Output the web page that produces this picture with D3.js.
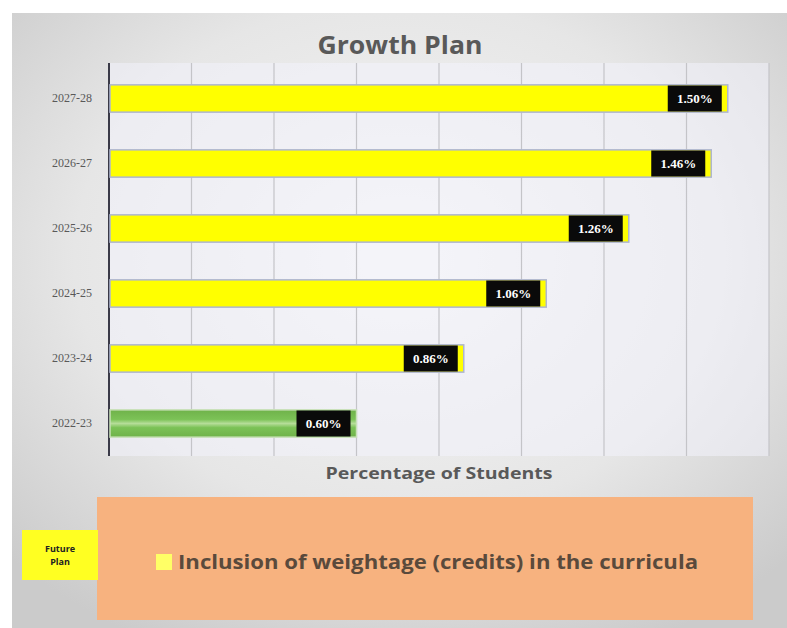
<!DOCTYPE html>
<html>
<head>
<meta charset="utf-8">
<script src="https://cdn.jsdelivr.net/npm/d3@7"></script>
<style>
  body { margin: 0; background: #fff; }
  svg { display: block; }
</style>
</head>
<body>
<svg id="chart" width="787" height="628"></svg>
<script>
"use strict";

// values
var years = ["2027-28", "2026-27", "2025-26", "2024-25", "2023-24", "2022-23"];
var percents = [1.50, 1.46, 1.26, 1.06, 0.86, 0.60];
var planned = [true, true, true, true, true, false];
var gridTicks = [0, 0.2, 0.4, 0.6, 0.8, 1.0, 1.2, 1.4, 1.6];
var legendLabels = ["Inclusion of weightage (credits) in the curricula"];
var sideLabel = ["Future", "Plan"];

var svg = d3.select("#chart");
var defs = svg.append("defs");

var bg = defs.append("radialGradient").attr("id", "bgGrad")
  .attr("cx", "50%").attr("cy", "40%").attr("r", "70%");
bg.append("stop").attr("offset", "0%").attr("stop-color", "#f7f7f7");
bg.append("stop").attr("offset", "60%").attr("stop-color", "#e6e6e6");
bg.append("stop").attr("offset", "100%").attr("stop-color", "#cbcbcb");

var green = defs.append("linearGradient").attr("id", "greenGrad")
  .attr("x1", 0).attr("y1", 0).attr("x2", 0).attr("y2", 1);
green.append("stop").attr("offset", "0%").attr("stop-color", "#6fb24a");
green.append("stop").attr("offset", "35%").attr("stop-color", "#7cc257");
green.append("stop").attr("offset", "50%").attr("stop-color", "#b5dd98");
green.append("stop").attr("offset", "65%").attr("stop-color", "#7cc257");
green.append("stop").attr("offset", "100%").attr("stop-color", "#6fb24a");

// outer panel
svg.append("rect")
  .attr("x", 12).attr("y", 13)
  .attr("width", 787 - 12).attr("height", 628 - 13)
  .attr("fill", "url(#bgGrad)");

var x = d3.scaleLinear().domain([0, 1.6]).range([109, 769]);
var y = d3.scaleBand().domain(years).range([66, 456]).paddingInner(0.58).paddingOuter(0.29);

// plot area tint
svg.append("rect")
  .attr("x", x(0)).attr("y", 63)
  .attr("width", x(1.6) - x(0)).attr("height", 456 - 63)
  .attr("fill", "#f3f3fb").attr("opacity", 0.55);

svg.append("text")
  .attr("x", 400).attr("y", 54)
  .attr("text-anchor", "middle")
  .attr("font-family", "'Open Sans', sans-serif")
  .attr("font-weight", "bold")
  .attr("font-size", 25)
  .attr("textLength", 165)
  .attr("lengthAdjust", "spacingAndGlyphs")
  .attr("fill", "#595959")
  .text("Growth Plan");

// vertical gridlines
svg.append("g")
  .selectAll("line")
  .data(gridTicks.slice(1))
  .join("line")
  .attr("x1", function(d) { return x(d); })
  .attr("x2", function(d) { return x(d); })
  .attr("y1", 63).attr("y2", 456)
  .attr("stroke", "#c4c4c8").attr("stroke-width", 1.2);

// category axis
var yAxis = svg.append("g")
  .attr("transform", "translate(" + x(0) + ",0)")
  .call(d3.axisLeft(y).tickSize(0).tickPadding(17));
yAxis.select(".domain").remove();
yAxis.selectAll("text")
  .attr("font-family", "'Liberation Serif', serif")
  .attr("font-size", 12)
  .attr("fill", "#595959");

svg.append("line")
  .attr("x1", x(0)).attr("x2", x(0))
  .attr("y1", 63).attr("y2", 456)
  .attr("stroke", "#3a3a48").attr("stroke-width", 2);

var rows = years.map(function(yr, i) {
  return { year: yr, value: percents[i], planned: planned[i] };
});

// bars
svg.append("g")
  .selectAll("rect")
  .data(rows)
  .join("rect")
  .attr("x", x(0) + 1)
  .attr("y", function(d) { return y(d.year); })
  .attr("width", function(d) { return x(d.value) - x(0) - 1; })
  .attr("height", y.bandwidth())
  .attr("fill", function(d) { return d.planned ? "#ffff00" : "url(#greenGrad)"; })
  .attr("stroke", function(d) { return d.planned ? "#aeb6d0" : "#c8e0b8"; })
  .attr("stroke-width", 1.5);

// data labels
var boxW = 54, boxH = 26;
var labels = svg.append("g")
  .selectAll("g")
  .data(rows)
  .join("g")
  .attr("transform", function(d) {
    return "translate(" + (x(d.value) - 6 - boxW) + "," + (y(d.year) + y.bandwidth() / 2 - boxH / 2) + ")";
  });
labels.append("rect")
  .attr("width", boxW).attr("height", boxH)
  .attr("fill", "#0a0a0a");
labels.append("text")
  .attr("x", boxW / 2).attr("y", boxH / 2 + 4.5)
  .attr("text-anchor", "middle")
  .attr("font-family", "'Liberation Serif', serif")
  .attr("font-weight", "bold")
  .attr("font-size", 13)
  .attr("fill", "#ffffff")
  .text(function(d) { return d.value.toFixed(2) + "%"; });

svg.append("text")
  .attr("x", (x(0) + x(1.6)) / 2).attr("y", 479)
  .attr("text-anchor", "middle")
  .attr("font-family", "'Open Sans', sans-serif")
  .attr("font-weight", "bold")
  .attr("font-size", 16)
  .attr("textLength", 227)
  .attr("lengthAdjust", "spacingAndGlyphs")
  .attr("fill", "#595959")
  .text("Percentage of Students");

// legend panel
svg.append("rect")
  .attr("x", 97).attr("y", 497)
  .attr("width", 656).attr("height", 123)
  .attr("fill", "#f7b27f");

var legend = svg.append("g").selectAll("g")
  .data(legendLabels)
  .join("g")
  .attr("transform", "translate(156,562)");
legend.append("rect")
  .attr("x", 0).attr("y", -8)
  .attr("width", 16).attr("height", 16)
  .attr("fill", "#ffff66");
legend.append("text")
  .attr("x", 22).attr("y", 7)
  .attr("font-family", "'Open Sans', sans-serif")
  .attr("font-weight", "bold")
  .attr("font-size", 20)
  .attr("textLength", 520)
  .attr("lengthAdjust", "spacingAndGlyphs")
  .attr("fill", "#5a4a3c")
  .text(function(d) { return d; });

// side tag
svg.append("rect")
  .attr("x", 22).attr("y", 530)
  .attr("width", 76).attr("height", 50)
  .attr("fill", "#ffff22");
svg.append("text")
  .attr("x", 60).attr("y", 552)
  .attr("text-anchor", "middle")
  .attr("font-family", "'Open Sans', sans-serif")
  .attr("font-weight", "bold")
  .attr("font-size", 9)
  .attr("fill", "#222")
  .selectAll("tspan")
  .data(sideLabel)
  .join("tspan")
  .attr("x", 60)
  .attr("dy", function(d, i) { return i === 0 ? 0 : 13; })
  .text(function(d) { return d; });
</script>
</body>
</html>
